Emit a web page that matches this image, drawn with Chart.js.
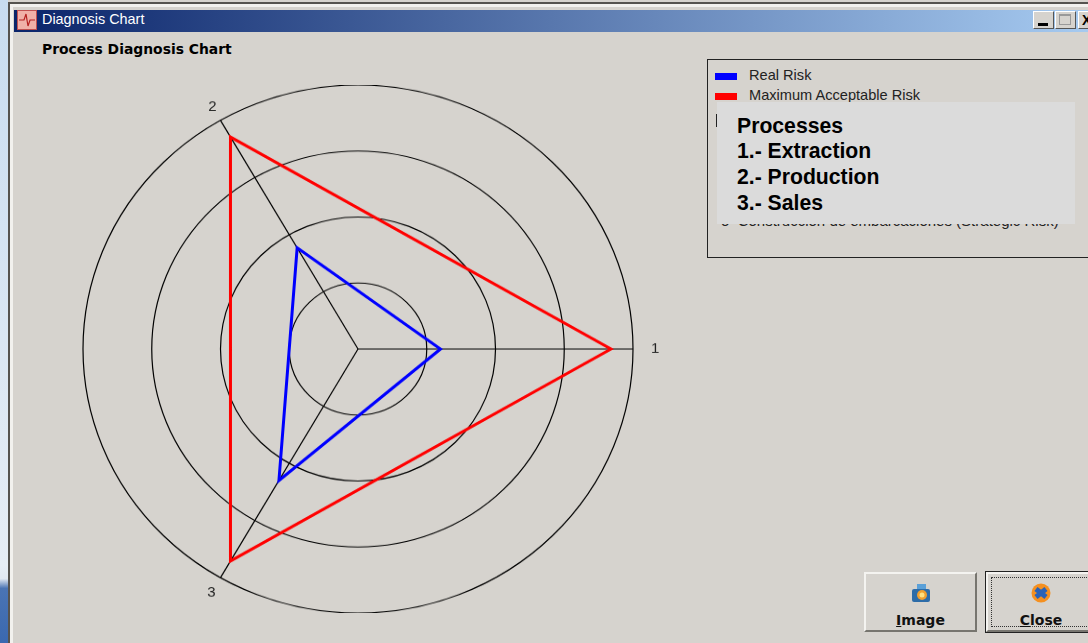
<!DOCTYPE html>
<html>
<head>
<meta charset="utf-8">
<title>Diagnosis Chart</title>
<script src="https://cdn.jsdelivr.net/npm/chart.js@4"></script>
<style>
  html, body { margin: 0; padding: 0; }
  body { width: 1088px; height: 643px; overflow: hidden; position: relative; background: #d6d3ce;
         font-family: "Liberation Sans", Arial, sans-serif; }
  .abs { position: absolute; }
  #desk { left: 0; top: 0; width: 8px; height: 643px;
          background: linear-gradient(to bottom, #c8dcf0 0%, #e6edf5 88%, #e0e8f2 90%, #4a74b4 91.5%, #3a68b0 100%); }
  #edge { left: 8px; top: 2px; width: 2px; height: 641px; background: #55534f; }
  #edge2 { left: 10px; top: 4px; width: 3px; height: 639px; background: #f2f1ee; }
  #topEdge { left: 8px; top: 2px; width: 1080px; height: 2px; background: #55534f; }
  #topEdge2 { left: 10px; top: 4px; width: 1078px; height: 3px; background: #f2f1ee; }
  #titlebar { left: 14px; top: 10px; width: 1074px; height: 22px; color: #fff; font-size: 14.4px; line-height: 19px;
              background: linear-gradient(to right, #0a246a 0%, #a6caf0 100%); }
  #titlebar span { position: absolute; left: 28px; top: 0; }
  #icon { left: 17px; top: 10px; width: 20px; height: 20px; background: #f0b0a8; border: 1px solid #c05050; box-sizing: border-box; }
  #heading { left: 42px; top: 41px; font: bold 13.9px "DejaVu Sans", sans-serif; color: #000; }
  /* the original plot is slightly flattened, its rings are ellipses */
  #chartBox { left: 38px; top: 74px; width: 640px; height: 550px; transform: scaleY(0.96); transform-origin: 50% 50%; }
  #legendBox { left: 707px; top: 59px; width: 400px; height: 199px; border: 1px solid #222; box-sizing: border-box; }
  .legRow { position: absolute; left: 7px; font-size: 14.6px; color: #222; white-space: nowrap; }
  .legRow i { position: absolute; left: 0; top: 6px; width: 22px; height: 7px; }
  .legRow span { position: absolute; left: 34px; top: 0; }
  #under { left: 721px; top: 212px; font-size: 15px; color: #222; white-space: nowrap; }
  #peek { left: 716px; top: 114px; width: 2px; height: 13px; background: #222; }
  #overlay { left: 717px; top: 102px; width: 358px; height: 122px; background: #dbdbdb; }
  #overlay div { position: absolute; left: 20px; font-size: 21.2px; line-height: 26px; font-weight: bold; color: #000; white-space: nowrap; }
  .btn { position: absolute; top: 572px; height: 60px; background: #d6d3ce; box-sizing: border-box; text-align: center;
         border: 2px solid; border-color: #f4f3f0 #77756f #77756f #f4f3f0; font: bold 14px "DejaVu Sans", sans-serif; color: #111; }
  .btn .lab { position: absolute; left: 0; right: 0; top: 38px; }
  #btnClose { outline: 1px solid #222; }
  #btnClose .focus { position: absolute; left: 3px; top: 3px; right: 3px; bottom: 3px; border: 1px dotted #333; }
  .glyph { position: absolute; left: 50%; top: 9px; width: 22px; height: 20px; margin-left: -11px; }
  #minBtn, #maxBtn, #xBtn { position: absolute; top: 11px; width: 21px; height: 18px; background: #d6d3ce;
         border-right: 1px solid #555; border-bottom: 1px solid #555; border-top: 1px solid #fff; border-left: 1px solid #fff; box-sizing: border-box; }
  #minBtn { left: 1033px; } #maxBtn { left: 1055px; } #xBtn { left: 1078px; font: bold 14px/16px "Liberation Sans"; color: #000; padding-left: 3px; }
  #minBtn:after { content: ""; position: absolute; left: 4px; bottom: 2px; width: 10px; height: 3px; background: #000; }
  #maxBtn:after { content: ""; position: absolute; left: 3px; top: 2px; width: 12px; height: 11px; border: 1px solid #999; border-top-width: 2px; box-sizing: border-box; }
</style>
</head>
<body>
<div class="abs" id="desk"></div>
<div class="abs" id="topEdge"></div>
<div class="abs" id="topEdge2"></div>
<div class="abs" id="edge"></div>
<div class="abs" id="edge2"></div>
<div class="abs" id="titlebar"><span>Diagnosis Chart</span></div>
<div class="abs" id="icon">
  <svg width="18" height="18" viewBox="0 0 18 18"><polyline points="1,9 6,9 8,3 10,15 12,9 17,9" fill="none" stroke="#b52020" stroke-width="1.2"/></svg>
</div>
<div id="minBtn"></div><div id="maxBtn"></div><div id="xBtn">X</div>

<div class="abs" id="heading">Process Diagnosis Chart</div>
<div class="abs" id="chartBox"><canvas id="myChart" width="640" height="550"></canvas></div>

<div class="abs" id="legendBox">
  <div class="legRow" style="top:7px"><i id="leg0"></i><span id="legText0"></span></div>
  <div class="legRow" style="top:27px"><i id="leg1"></i><span id="legText1"></span></div>
</div>
<div class="abs" id="peek"></div>
<div class="abs" id="under">o&nbsp;&nbsp;Construcción de embarcaciones (Strategic Risk)</div>
<div class="abs" id="overlay">
  <div style="top:11px">Processes</div>
  <div style="top:36px">1.- Extraction</div>
  <div style="top:62px">2.- Production</div>
  <div style="top:88px">3.- Sales</div>
</div>

<div class="btn" style="left:864px;width:113px">
  <svg class="glyph" viewBox="0 0 22 20"><rect x="2" y="6" width="18" height="13" rx="2" fill="#2d6ca8"/><rect x="7" y="1" width="9" height="5" fill="#5aa0d8"/><circle cx="12" cy="12" r="5" fill="#f0a030"/><circle cx="12" cy="12" r="2.5" fill="#ffe080"/></svg>
  <div class="lab"><u>I</u>mage</div>
</div>
<div class="btn" id="btnClose" style="left:986px;width:110px">
  <div class="focus"></div>
  <svg class="glyph" style="margin-left:-11px" viewBox="0 0 22 20"><circle cx="11" cy="10" r="9.5" fill="#f59020"/><path d="M6 6 L16 14 M16 6 L6 14" stroke="#2a62b8" stroke-width="5"/></svg>
  <div class="lab"><u>C</u>lose</div>
</div>

<script>
// axis order runs clockwise in Chart.js: 1 on the right, then 3 and 2
const categories = ["1", "3", "2"];
const realRisk = [1.2, 2.3, 1.77];
const maxRisk = [3.68, 3.71, 3.71];
const gridTicks = [0, 1, 2, 3, 4];
const labelPadding = [18, 10, 8];
const seriesNames = ["Real Risk", "Maximum Acceptable Risk"];
const seriesColors = ["#0000ff", "#ff0000"];

document.getElementById("leg0").style.background = seriesColors[0];
document.getElementById("leg1").style.background = seriesColors[1];
document.getElementById("legText0").textContent = seriesNames[0];
document.getElementById("legText1").textContent = seriesNames[1];

const ctx = document.getElementById("myChart").getContext("2d");
new Chart(ctx, {
  type: "radar",
  data: {
    labels: categories,
    datasets: [
      { label: seriesNames[0], data: realRisk, borderColor: seriesColors[0], borderWidth: 3, pointRadius: 0, fill: false, tension: 0 },
      { label: seriesNames[1], data: maxRisk, borderColor: seriesColors[1], borderWidth: 3, pointRadius: 0, fill: false, tension: 0 }
    ]
  },
  options: {
    responsive: false,
    animation: false,
    layout: { padding: 0 },
    plugins: { legend: { display: false }, title: { display: false }, tooltip: { enabled: false } },
    scales: {
      r: {
        min: gridTicks[0],
        max: gridTicks[gridTicks.length - 1],
        startAngle: 90,
        ticks: { stepSize: 1, display: false },
        grid: { circular: true, color: "#000", lineWidth: 1.2 },
        angleLines: { color: "#000", lineWidth: 1.2 },
        pointLabels: {
          color: "#222",
          padding: (c) => labelPadding[c.index],
          font: { family: "Liberation Sans", size: 15, lineHeight: 1 }
        }
      }
    }
  }
});
</script>
</body>
</html>
